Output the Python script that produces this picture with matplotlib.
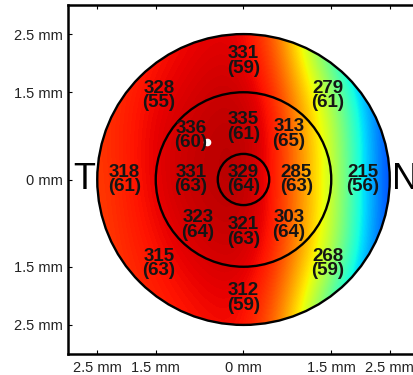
import numpy as np
import matplotlib.pyplot as plt
from matplotlib.patches import Circle

plt.rcParams['font.family'] = ['Liberation Sans', 'DejaVu Sans']

# ETDRS-like thickness map, values in um (sd in brackets)
sectors = ['S', 'SN', 'N', 'IN', 'I', 'IT', 'T', 'ST']
angles = [90, 45, 0, -45, -90, -135, 180, 135]
center_thk = 329
center_sd = 64
inner_thk = [335, 313, 285, 303, 321, 323, 331, 336]
inner_sd = [61, 65, 63, 64, 63, 64, 63, 60]
outer_thk = [331, 279, 215, 268, 312, 315, 318, 328]
outer_sd = [59, 61, 56, 59, 59, 63, 61, 55]

# coarse thickness map behind the rings, um
map_x = [-2.5, -2, -1.5, -1, -0.5, 0, 0.5, 1, 1.5, 2, 2.5]
map_y = [2.5, 1.25, 0, -1.25, -2.5]
map_thk = [
    [317, 320, 324, 327, 329, 328, 311, 275, 233, 205, 191],
    [319, 324, 329, 332, 335, 335, 327, 301, 275, 233, 201],
    [318, 324, 330, 335, 336, 337, 327, 301, 275, 233, 201],
    [317, 322, 326, 330, 333, 333, 326, 301, 275, 233, 201],
    [315, 319, 322, 324, 326, 326, 310, 275, 233, 205, 191],
]

tick_pos = [-2.5, -1.5, 0, 1.5, 2.5]
tick_lab = ['2.5 mm', '1.5 mm', '0 mm', '1.5 mm', '2.5 mm']

radii = [0.44, 1.5, 2.5]

# label positions per ring (axis / diagonal)
def ring_xy(r_axis, r_diag):
    xy = []
    for a in angles:
        r = r_diag if a % 90 else r_axis
        xy.append((r*np.cos(np.deg2rad(a)), r*np.sin(np.deg2rad(a))))
    return xy

inner_xy = ring_xy(0.9, 1.1)
outer_xy = ring_xy(2.04, 2.04)
# ST label sits a bit further left (fovea dot next to it)
inner_xy[7] = (inner_xy[7][0] - 0.12, inner_xy[7][1] - 0.02)

fig = plt.figure(figsize=(4.13, 3.75), dpi=100)
ax = fig.add_axes([68/413, 21/375, 351/413, 349/375])

dx = (map_x[1] - map_x[0]) / 2
dy = (map_y[0] - map_y[1]) / 2
im = ax.imshow(np.array(map_thk, float), origin='upper',
               extent=[map_x[0]-dx, map_x[-1]+dx, map_y[-1]-dy, map_y[0]+dy],
               cmap='jet', vmin=170, vmax=345, interpolation='bicubic',
               aspect='auto')
clip = Circle((0, 0), radii[-1], transform=ax.transData)
im.set_clip_path(clip)
ax.set_xlim(-3, 3)
ax.set_ylim(-3, 3)

for r in radii:
    ax.add_patch(Circle((0, 0), r, fill=False, ec='black', lw=1.7))

lab_kw = dict(ha='center', va='center', fontsize=13.5, fontweight='bold',
              linespacing=0.82, color='#151515')
ax.text(0, 0, '%d\n(%d)' % (center_thk, center_sd), **lab_kw)
for (x, y), t, s in zip(inner_xy + outer_xy, inner_thk + outer_thk, inner_sd + outer_sd):
    ax.text(x, y, '%d\n(%d)' % (t, s), **lab_kw)

ax.plot(-0.62, 0.64, 'o', color='white', ms=4.5)

ax.text(-2.72, 0, 'T', fontsize=26, ha='center', va='center')
ax.text(2.77, 0, 'N', fontsize=26, ha='center', va='center')

ax.set_xticks(tick_pos)
ax.set_xticklabels(tick_lab)
ax.set_yticks(tick_pos)
ax.set_yticklabels(tick_lab)
ax.tick_params(direction='in', length=3, width=0.8, labelsize=10.5,
               top=True, right=True, labelcolor='#222222')
ax.tick_params(axis='x', pad=5)
for sp in ax.spines.values():
    sp.set_linewidth(1.8)

fig.savefig('out.png', dpi=100)
